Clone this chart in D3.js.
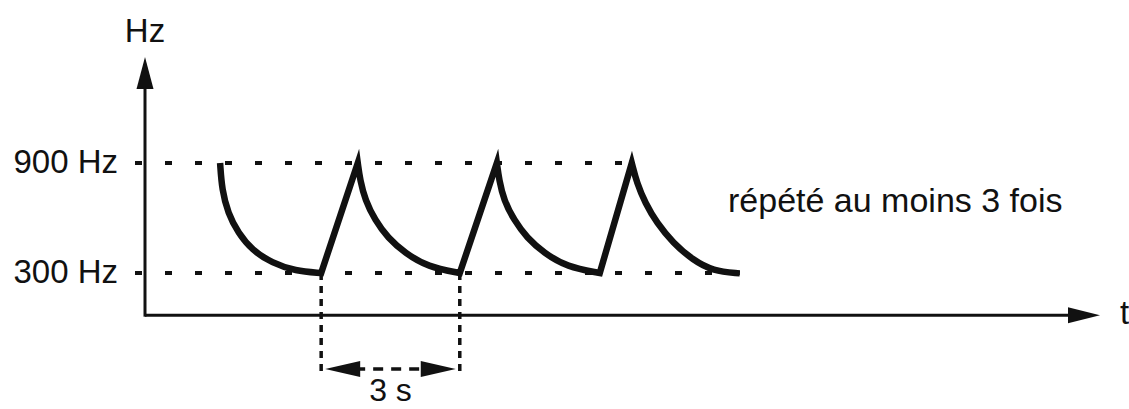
<!DOCTYPE html>
<html>
<head>
    <meta charset="utf-8">
    <title>Signal 300-900 Hz</title>
    <script src="https://d3js.org/d3.v7.min.js"></script>
    <style>
        html, body { margin: 0; background: #fff; }
        svg { display: block; }
        text { font-family: "Liberation Sans", Arial, Helvetica, sans-serif; fill: #111; }
    </style>
</head>
<body>
    <svg></svg>
    <script>
        // time in seconds, frequency in Hz
        var decay1 = [[1.62, 900], [1.66, 753], [1.79, 627], [2.01, 518], [2.31, 425], [2.74, 355], [3.24, 311], [3.80, 300]];
        var decay2 = [[4.59, 900], [4.64, 807], [4.75, 698], [4.96, 589], [5.24, 491], [5.61, 409], [6.10, 333], [6.79, 300]];
        var decay3 = [[7.59, 900], [7.64, 807], [7.74, 698], [7.96, 589], [8.24, 491], [8.61, 409], [9.10, 333], [9.81, 300]];
        var decay4 = [[10.50, 900], [10.61, 791], [10.79, 682], [11.04, 573], [11.39, 464], [11.82, 371], [12.25, 311], [12.83, 298]];
        var levels = [900, 300];
        var levelLabels = ["900 Hz", "300 Hz"];
        var levelEnds = [10.50, 12.83];
        var periodMarks = [3.80, 6.79];
        var periodLabel = "3 s";
        var note = "répété au moins 3 fois";

        var width = 1129, height = 409;
        var svg = d3.select("svg").attr("width", width).attr("height", height);

        var x = d3.scaleLinear().domain([0, 20.6]).range([145, 1100]);
        var y = d3.scaleLinear().domain([300, 900]).range([273, 163]);

        var x0 = x(0), xEnd = x(20.6);
        var y0 = y(70), yTop = y(1478);

        function head(tx, ty, dx, dy, len, hw) {
            var bx = tx - dx * len, by = ty - dy * len;
            var px = -dy * hw, py = dx * hw;
            return "M" + tx + "," + ty + "L" + (bx + px) + "," + (by + py) + "L" + (bx - px) + "," + (by - py) + "Z";
        }

        // dotted reference levels
        svg.append("g").selectAll("line")
            .data(levels)
            .enter().append("line")
            .attr("x1", x0 - 10)
            .attr("x2", (d, i) => x(levelEnds[i]))
            .attr("y1", d => y(d))
            .attr("y2", d => y(d))
            .attr("stroke", "#111")
            .attr("stroke-width", 4)
            .attr("stroke-dasharray", "7 23");

        // dashed period markers
        svg.append("g").selectAll("line")
            .data(periodMarks)
            .enter().append("line")
            .attr("x1", d => x(d))
            .attr("x2", d => x(d))
            .attr("y1", y(300))
            .attr("y2", 374)
            .attr("stroke", "#111")
            .attr("stroke-width", 3.5)
            .attr("stroke-dasharray", "7 6");

        // axes
        svg.append("line")
            .attr("x1", x0).attr("x2", x0)
            .attr("y1", yTop + 30).attr("y2", y0 + 1.5)
            .attr("stroke", "#111").attr("stroke-width", 3);
        svg.append("path").attr("d", head(x0, yTop, 0, -1, 32, 8.5)).attr("fill", "#111");
        svg.append("line")
            .attr("x1", x0).attr("x2", xEnd - 30)
            .attr("y1", y0).attr("y2", y0)
            .attr("stroke", "#111").attr("stroke-width", 3);
        svg.append("path").attr("d", head(xEnd, y0, 1, 0, 32, 8)).attr("fill", "#111");

        // the sweep: smooth decays joined by straight rises
        var line = d3.line()
            .x(d => x(d[0]))
            .y(d => y(d[1]))
            .curve(d3.curveBasis);
        var pathD = [decay1, decay2, decay3, decay4]
            .map((seg, i) => i === 0 ? line(seg) : "L" + line(seg).slice(1))
            .join("");
        svg.append("path")
            .attr("d", pathD)
            .attr("fill", "none")
            .attr("stroke", "#111")
            .attr("stroke-width", 6.5)
            .attr("stroke-linejoin", "miter")
            .attr("stroke-miterlimit", 12);

        // 3 s double arrow
        var ay = 369;
        var ax1 = x(periodMarks[0]) + 4, ax2 = x(periodMarks[1]) - 4;
        svg.append("line")
            .attr("x1", ax1 + 30).attr("x2", ax2 - 30)
            .attr("y1", ay).attr("y2", ay)
            .attr("stroke", "#111").attr("stroke-width", 3.5)
            .attr("stroke-dasharray", "10 8");
        svg.append("path").attr("d", head(ax1, ay, -1, 0, 35, 8)).attr("fill", "#111");
        svg.append("path").attr("d", head(ax2, ay, 1, 0, 35, 8)).attr("fill", "#111");

        // text
        svg.append("g").selectAll("text")
            .data(levels)
            .enter().append("text")
            .attr("x", 118)
            .attr("y", d => y(d) + 10)
            .attr("text-anchor", "end")
            .attr("font-size", 33)
            .text((d, i) => levelLabels[i]);

        svg.append("text")
            .attr("x", x0).attr("y", 42)
            .attr("text-anchor", "middle")
            .attr("font-size", 33)
            .text("Hz");

        svg.append("text")
            .attr("x", 1120).attr("y", y0 + 9)
            .attr("font-size", 33)
            .text("t");

        svg.append("text")
            .attr("x", (x(periodMarks[0]) + x(periodMarks[1])) / 2).attr("y", 401)
            .attr("text-anchor", "middle")
            .attr("font-size", 32)
            .text(periodLabel);

        svg.append("text")
            .attr("x", 728).attr("y", 212)
            .attr("font-size", 34)
            .text(note);
    </script>
</body>
</html>
